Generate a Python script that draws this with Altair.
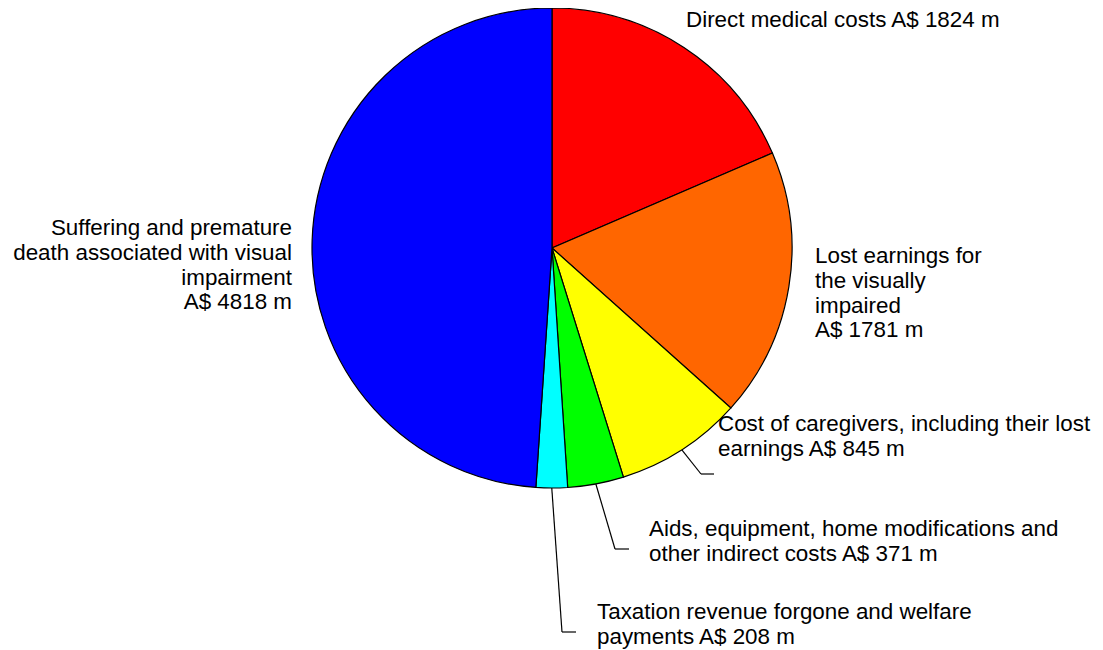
import math
import altair as alt
import pandas as pd

# ---- data ----
categories = [
    "Direct medical costs",
    "Lost earnings for the visually impaired",
    "Cost of caregivers, including their lost earnings",
    "Aids, equipment, home modifications and other indirect costs",
    "Taxation revenue forgone and welfare payments",
    "Suffering and premature death associated with visual impairment",
]
values = [1824, 1781, 845, 371, 208, 4818]
colors = ["#FF0000", "#FF6600", "#FFFF00", "#00FF00", "#00FFFF", "#0000FF"]
label_texts = [
    "Direct medical costs A$ 1824 m",
    "Lost earnings for\nthe visually\nimpaired\nA$ 1781 m",
    "Cost of caregivers, including their lost\nearnings A$ 845 m",
    "Aids, equipment, home modifications and\nother indirect costs A$ 371 m",
    "Taxation revenue forgone and welfare\npayments A$ 208 m",
    "Suffering and premature\ndeath associated with visual\nimpairment\nA$ 4818 m",
]

# ---- layout (pixels in view coordinates) ----
W, H = 1087, 641
CX, CY, R = 544, 240, 240
FONT = "Liberation Sans"
FS = 22.4
LH = 24.8
label_pos = [  # x, first baseline y, align
    (678, 19, "left"),
    (807, 255, "left"),
    (710, 423, "left"),
    (641, 528, "left"),
    (589, 611, "left"),
    (284, 227, "right"),
]
# leader lines: (elbow x, elbow y, end x) for slices that have one
leaders = {2: (693, 466, 706), 3: (607, 541, 621), 4: (554, 624, 568)}

df = pd.DataFrame({"cat": categories, "value": values, "idx": range(len(values))})

pie = (
    alt.Chart(df)
    .mark_arc(radius=R, stroke="black", strokeWidth=1.2)
    .encode(
        theta=alt.Theta("value:Q", stack=True),
        order=alt.Order("idx:Q", sort="ascending"),
        color=alt.Color("cat:N", scale=alt.Scale(domain=categories, range=colors), legend=None),
        x=alt.value(CX),
        y=alt.value(CY),
    )
)

# label table
lab = pd.DataFrame({
    "text": label_texts,
    "x": [p[0] for p in label_pos],
    "y": [p[1] for p in label_pos],
    "align": [p[2] for p in label_pos],
})
texts = []
for al in ["left", "right"]:
    sub = lab[lab["align"] == al]
    texts.append(
        alt.Chart(sub)
        .mark_text(align=al, baseline="alphabetic", font=FONT, fontSize=FS,
                   lineBreak="\n", lineHeight=LH, color="black")
        .encode(x=alt.X("x:Q", scale=None), y=alt.Y("y:Q", scale=None), text="text:N")
    )

# leader segments computed from slice mid-angles
total = sum(values)
segs = []
cum = 0
for i, v in enumerate(values):
    mid = (cum + v / 2) / total * 2 * math.pi
    cum += v
    if i in leaders:
        sx = CX + R * math.sin(mid)
        sy = CY - R * math.cos(mid)
        ex, ey, tx = leaders[i]
        segs.append({"x": sx, "y": sy, "x2": ex, "y2": ey})
        segs.append({"x": ex, "y": ey, "x2": tx, "y2": ey})
seg_df = pd.DataFrame(segs)
rules = (
    alt.Chart(seg_df)
    .mark_rule(color="black", strokeWidth=1.2)
    .encode(
        x=alt.X("x:Q", scale=None), y=alt.Y("y:Q", scale=None),
        x2="x2:Q", y2="y2:Q",
    )
)

chart = (
    alt.layer(pie, rules, *texts)
    .properties(width=W, height=H, padding=0, autosize=alt.AutoSizeParams(type="none"))
    .configure_view(stroke=None)
)
chart.save("out.html", embed_options={"renderer": "svg", "actions": False})
